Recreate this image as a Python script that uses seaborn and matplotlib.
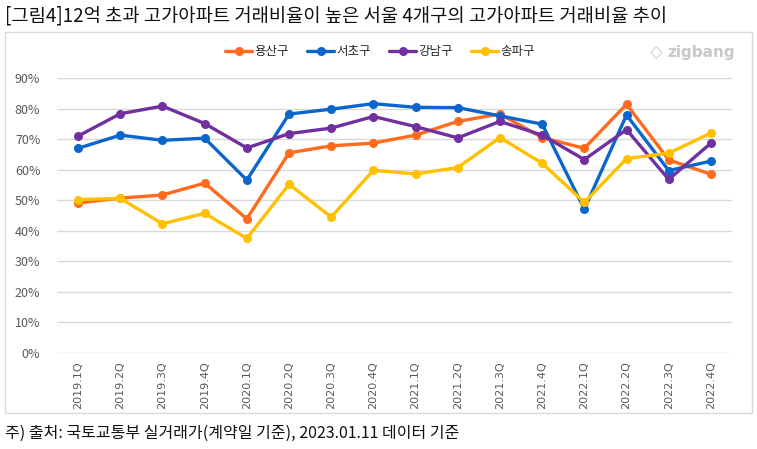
import seaborn as sns
import matplotlib.pyplot as plt
import matplotlib.ticker as mtick
from matplotlib.patches import Rectangle
import pandas as pd

quarters = ["2019.1Q", "2019.2Q", "2019.3Q", "2019.4Q",
            "2020.1Q", "2020.2Q", "2020.3Q", "2020.4Q",
            "2021.1Q", "2021.2Q", "2021.3Q", "2021.4Q",
            "2022.1Q", "2022.2Q", "2022.3Q", "2022.4Q"]
yongsan = [49.1, 50.7, 51.7, 55.6, 43.9, 65.5, 67.8, 68.7,
           71.3, 75.8, 78.2, 70.5, 67.0, 81.4, 63.2, 58.5]
seocho = [67.0, 71.3, 69.6, 70.3, 56.6, 78.2, 79.8, 81.6,
          80.4, 80.3, 77.6, 74.9, 47.1, 77.9, 59.7, 62.8]
gangnam = [71.0, 78.3, 80.8, 75.1, 67.1, 71.8, 73.6, 77.4,
           74.1, 70.4, 75.8, 71.3, 63.3, 73.1, 56.8, 68.7]
songpa = [50.2, 50.6, 42.3, 45.7, 37.5, 55.2, 44.5, 59.8,
          58.6, 60.7, 70.5, 62.1, 49.3, 63.6, 65.4, 72.0]
districts = ["용산구", "서초구", "강남구", "송파구"]
colors = ["#FF6A1C", "#0A66CC", "#7030A0", "#FFC000"]

rows = []
for name, vals in zip(districts, [yongsan, seocho, gangnam, songpa]):
    for i, v in enumerate(vals):
        rows.append({"pos": i, "rate": v / 100, "district": name})
df = pd.DataFrame(rows)

sns.set_theme(style="white")
plt.rcParams['font.family'] = ['Noto Sans CJK KR', 'DejaVu Sans']

fig = plt.figure(figsize=(7.57, 4.49), dpi=100)
ax = fig.add_axes([57 / 757, 1 - 353 / 449, (732 - 57) / 757, (353 - 78) / 449])

sns.lineplot(data=df, x="pos", y="rate", hue="district", hue_order=districts,
             palette=colors, marker="o", markersize=6.5, markeredgewidth=0,
             linewidth=2.4, ax=ax)

ax.set_xlim(-0.5, len(quarters) - 0.5)
ax.set_ylim(0, 0.9)
ax.set_yticks([i / 10 for i in range(10)])
ax.yaxis.set_major_formatter(mtick.PercentFormatter(1.0, decimals=0))
ax.set_xticks(range(len(quarters)))
ax.set_xticklabels(quarters, rotation=90, fontsize=8, color="#595959",
                   family=['DejaVu Sans'])
ax.tick_params(axis="y", labelsize=9, labelcolor="#595959", length=0, pad=12)
ax.tick_params(axis="x", length=0, pad=6)
ax.grid(axis="y", color="#D9D9D9", linewidth=1)
ax.set_axisbelow(True)
for s in ax.spines.values():
    s.set_visible(False)
ax.set_xlabel("")
ax.set_ylabel("")

ax.legend(loc="center", bbox_to_anchor=(380 / 757, 1 - 52 / 449),
          bbox_transform=fig.transFigure, ncol=4, frameon=False,
          fontsize=9, handlelength=2.2, handletextpad=0.2, columnspacing=1.4)

fig.patches.append(Rectangle((5 / 757, 1 - 413 / 449), 747 / 757, 381 / 449,
                             transform=fig.transFigure, fill=False,
                             edgecolor="#D9D9D9", linewidth=1))

fig.text(5 / 757, 1 - 16 / 449,
         "[그림4]12억 초과 고가아파트 거래비율이 높은 서울 4개구의 고가아파트 거래비율 추이",
         fontsize=13.5, va="center", ha="left", color="#111111")
fig.text(5 / 757, 1 - 433 / 449,
         "주) 출처: 국토교통부 실거래가(계약일 기준), 2023.01.11 데이터 기준",
         fontsize=11.5, va="center", ha="left", color="#111111")
fig.text(735 / 757, 1 - 53 / 449, "zigbang", fontsize=11, fontweight="bold",
         color="#C8C8C8", va="center", ha="right", family=['DejaVu Sans'])
fig.text(656 / 757, 1 - 53 / 449, "◇", fontsize=12,
         color="#C8C8C8", va="center", ha="center", family=['DejaVu Sans'])

fig.savefig("out.png", dpi=100)
